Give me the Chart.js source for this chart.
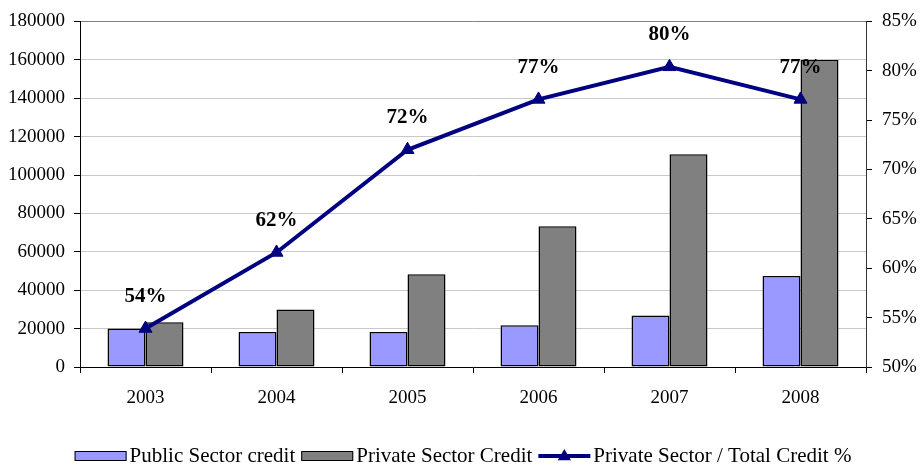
<!DOCTYPE html>
<html>
<head>
<meta charset="utf-8">
<script src="https://cdn.jsdelivr.net/npm/chart.js@4.4.1/dist/chart.umd.min.js"></script>
<style>
  html, body { margin: 0; padding: 0; background: #fff; }
  #wrap { width: 920px; height: 465px; position: relative; }
</style>
</head>
<body>
<div id="wrap"><canvas id="c" width="920" height="465"></canvas></div>
<script>
const years = ['2003', '2004', '2005', '2006', '2007', '2008'];
const publicCredit = [20000, 18200, 18200, 21700, 26800, 47400];
const privateCredit = [23300, 29900, 48300, 73300, 110800, 159900];
const privateShare = [53.9, 61.6, 72.0, 77.1, 80.4, 77.1];
const shareLabels = ['54%', '62%', '72%', '77%', '80%', '77%'];
const seriesNames = ['Public Sector credit', 'Private Sector Credit', 'Private Sector / Total Credit %'];

const FONT = '"Liberation Serif", "Times New Roman", serif';
Chart.defaults.font.family = FONT;
Chart.defaults.color = '#000';

const pointLabels = {
  id: 'pointLabels',
  afterDatasetsDraw(chart) {
    const ctx = chart.ctx;
    const meta = chart.getDatasetMeta(2);
    ctx.save();
    ctx.font = 'bold 21px ' + FONT;
    ctx.fillStyle = '#000';
    ctx.textAlign = 'center';
    ctx.textBaseline = 'middle';
    meta.data.forEach((pt, i) => {
      ctx.fillText(shareLabels[i], pt.x, pt.y - 32);
    });
    ctx.restore();
  }
};

const customLegend = {
  id: 'customLegend',
  afterDraw(chart) {
    const ctx = chart.ctx;
    const ds = chart.data.datasets;
    ctx.save();
    ctx.font = '21px ' + FONT;
    ctx.textBaseline = 'middle';
    const keyW = 52, gapKey = 3, gapItem = 6;
    const widths = ds.map(d => ctx.measureText(d.label).width);
    const total = widths.reduce((a, w) => a + keyW + gapKey + w, 0) + gapItem * (ds.length - 1);
    let x = 463 - total / 2;
    const cy = 456;
    ds.forEach((d, i) => {
      if (d.type === 'line') {
        ctx.strokeStyle = d.borderColor;
        ctx.lineWidth = 4;
        ctx.beginPath();
        ctx.moveTo(x, cy);
        ctx.lineTo(x + keyW, cy);
        ctx.stroke();
        const cx = x + keyW / 2, r = 7;
        ctx.fillStyle = d.borderColor;
        ctx.beginPath();
        ctx.moveTo(cx, cy - r);
        ctx.lineTo(cx + r * 0.95, cy + r * 0.6);
        ctx.lineTo(cx - r * 0.95, cy + r * 0.6);
        ctx.closePath();
        ctx.fill();
      } else {
        ctx.fillStyle = d.backgroundColor;
        ctx.fillRect(x, cy - 4.5, keyW, 9);
        ctx.strokeStyle = '#000';
        ctx.lineWidth = 1;
        ctx.strokeRect(x + 0.5, cy - 4.5, keyW - 1, 9);
      }
      ctx.fillStyle = '#000';
      ctx.textAlign = 'left';
      ctx.fillText(d.label, x + keyW + gapKey, cy);
      x += keyW + gapKey + widths[i] + gapItem;
    });
    ctx.restore();
  }
};

new Chart(document.getElementById('c'), {
  data: {
    labels: years,
    datasets: [
      {
        type: 'bar', label: seriesNames[0], data: publicCredit, yAxisID: 'y',
        backgroundColor: '#9999FF', borderColor: '#000', borderWidth: 1.5, borderSkipped: false,
        categoryPercentage: 0.58, barPercentage: 1.0, order: 2
      },
      {
        type: 'bar', label: seriesNames[1], data: privateCredit, yAxisID: 'y',
        backgroundColor: '#808080', borderColor: '#000', borderWidth: 1.5, borderSkipped: false,
        categoryPercentage: 0.58, barPercentage: 1.0, order: 2
      },
      {
        type: 'line', label: seriesNames[2], data: privateShare, yAxisID: 'y1',
        borderColor: '#000080', backgroundColor: '#000080', borderWidth: 4,
        pointStyle: 'triangle', pointRadius: 7.5, pointBorderWidth: 1,
        pointBackgroundColor: '#000080', pointBorderColor: '#000080',
        tension: 0, fill: false, order: 1
      }
    ]
  },
  options: {
    responsive: false,
    animation: false,
    devicePixelRatio: 1,
    layout: { padding: { top: 21, left: 0, right: 0, bottom: 0 } },
    plugins: { legend: { display: false }, tooltip: { enabled: false } },
    scales: {
      x: {
        type: 'category',
        offset: true,
        grid: { offset: true, drawOnChartArea: false, drawTicks: true, tickLength: 6, color: '#000' },
        border: { color: '#000', width: 1 },
        ticks: { font: { size: 19 }, color: '#000', padding: 14, maxRotation: 0 },
        afterFit(s) { s.height = 98; }
      },
      y: {
        position: 'left',
        min: 0, max: 180000,
        ticks: { stepSize: 20000, font: { size: 19 }, color: '#000', padding: 9, callback: v => String(v) },
        grid: {
          color: ctx => (ctx.tick && ctx.tick.value === 180000) ? '#808080' : '#c8c8c8',
          tickColor: '#000', tickLength: 6
        },
        border: { color: '#000', width: 1 },
        afterFit(s) { s.width = 80; }
      },
      y1: {
        position: 'right',
        min: 50, max: 85,
        ticks: { stepSize: 5, font: { size: 19 }, color: '#000', padding: 10, callback: v => v + '%' },
        grid: { drawOnChartArea: false, tickColor: '#000', tickLength: 6 },
        border: { color: '#333', width: 1 },
        afterFit(s) { s.width = 54; }
      }
    }
  },
  plugins: [pointLabels, customLegend]
});
</script>
</body>
</html>
